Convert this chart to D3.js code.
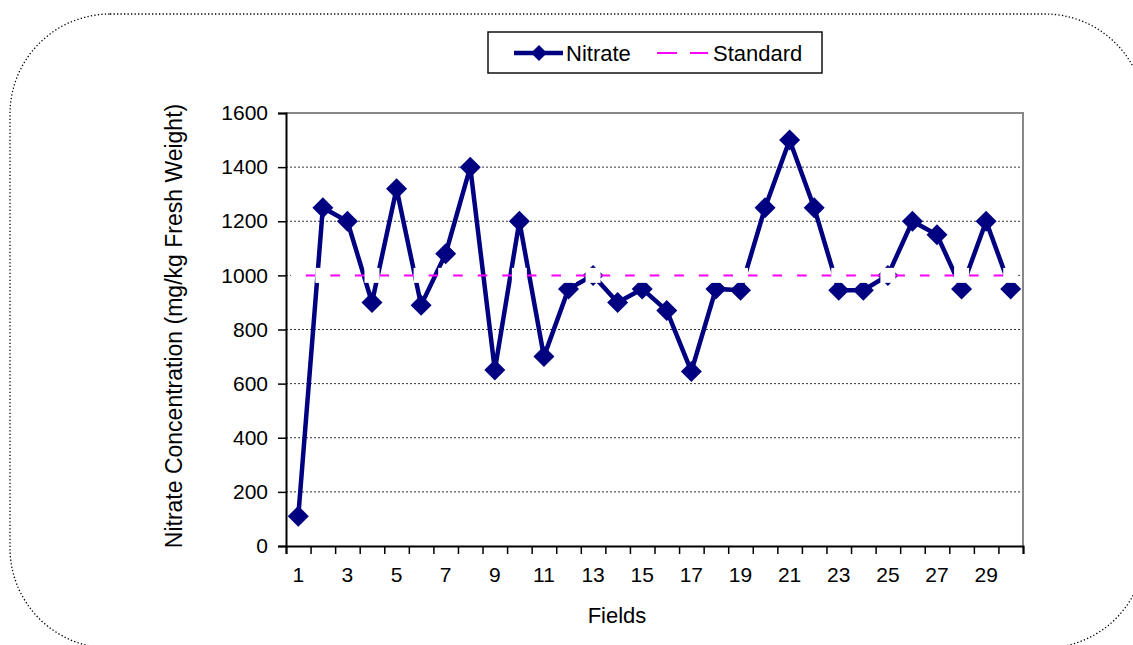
<!DOCTYPE html>
<html><head><meta charset="utf-8">
<script src="https://cdn.jsdelivr.net/npm/d3@7"></script>
<style>
html,body{margin:0;padding:0;background:#fff;}
svg{display:block;font-family:"Liberation Sans",Arial,sans-serif;}
</style></head>
<body><svg id="c" width="1133" height="645"></svg>
<script>
const fields = d3.range(1, 31);
const nitrate = [110,1250,1200,900,1320,890,1080,1400,650,1200,700,950,1000,900,950,870,645,950,945,1250,1500,1250,945,945,1000,1200,1150,950,1200,950];
const standard = fields.map(() => 1000);
const yTicks = [0,200,400,600,800,1000,1200,1400,1600];
const xLabels = fields.filter(d => d % 2 === 1);

const svg = d3.select("#c");
const L = 286, R = 1023, T = 113, B = 546;

// outer dotted rounded frame
svg.append("rect").attr("x",10).attr("y",14).attr("width",1135).attr("height",634)
  .attr("rx",100).attr("ry",100).attr("fill","none")
  .attr("stroke","#000").attr("stroke-width",1.3).attr("stroke-dasharray","1.3,2.2");

const x = d3.scaleBand().domain(fields).range([L,R]).paddingInner(0).paddingOuter(0);
const xb = d3.scaleLinear().domain([0,30]).range([L,R]);
const y = d3.scaleLinear().domain([0,1600]).range([B,T]);
const cx = d => x(d) + x.bandwidth()/2;

// gridlines
svg.append("g").selectAll("line").data(yTicks.filter(d => d>0 && d<1600)).join("line")
  .attr("x1",L).attr("x2",R).attr("y1",d=>y(d)).attr("y2",d=>y(d))
  .attr("stroke","#333").attr("stroke-width",1).attr("stroke-dasharray","2,2");

// plot border top/right
svg.append("path").attr("d",`M${L},${T}H${R}V${B}`).attr("fill","none")
  .attr("stroke","#888").attr("stroke-width",2);

// y axis
const ya = svg.append("g").attr("transform",`translate(${L},0)`)
  .call(d3.axisLeft(y).tickValues(yTicks).tickSize(8).tickPadding(10).tickFormat(d3.format("d")));
ya.select(".domain").attr("stroke","#000").attr("stroke-width",2);
ya.selectAll(".tick line").attr("stroke","#000").attr("stroke-width",1.5);
ya.selectAll("text").attr("font-size",21).attr("fill","#000").attr("font-family","Liberation Sans, Arial, sans-serif");

// x axis tick marks at category boundaries
const xa = svg.append("g").attr("transform",`translate(0,${B})`)
  .call(d3.axisBottom(xb).tickValues(d3.range(0,31)).tickSize(8).tickFormat(""));
xa.select(".domain").attr("stroke","#000").attr("stroke-width",2);
xa.selectAll(".tick line").attr("stroke","#000").attr("stroke-width",1.5);
// x labels
svg.append("g").selectAll("text").data(xLabels).join("text")
  .attr("x",d=>cx(d)).attr("y",582).attr("text-anchor","middle")
  .attr("font-size",21).attr("fill","#000").text(d=>d);

// nitrate line
const line = d3.line().x((d,i)=>cx(fields[i])).y(d=>y(d));
svg.append("path").datum(nitrate).attr("d",line).attr("fill","none")
  .attr("stroke","#000080").attr("stroke-width",4.5).attr("stroke-linejoin","miter");
const diamond = s => `M0,${-s}L${s},0L0,${s}L${-s},0Z`;
svg.append("g").selectAll("path").data(nitrate).join("path")
  .attr("transform",(d,i)=>`translate(${cx(fields[i])},${y(d)})`)
  .attr("d",diamond(10.5)).attr("fill","#000080");

// standard line
svg.append("path").datum(standard).attr("d",line).attr("fill","none")
  .attr("stroke","#ff00ff").attr("stroke-width",2);
svg.append("g").selectAll("rect").data(standard).join("rect")
  .attr("x",(d,i)=>cx(fields[i])-7.5).attr("y",d=>y(d)-7.5)
  .attr("width",15).attr("height",15).attr("fill","#fff");

// axis titles
svg.append("text").attr("x",617).attr("y",623).attr("text-anchor","middle")
  .attr("font-size",22).attr("fill","#000").text("Fields");
svg.append("text").attr("transform","translate(182,326) rotate(-90)").attr("text-anchor","middle")
  .attr("font-size",23).attr("fill","#000").text("Nitrate Concentration (mg/kg Fresh Weight)");

// legend
const lg = svg.append("g");
lg.append("rect").attr("x",488).attr("y",32).attr("width",334).attr("height",41)
  .attr("fill","#fff").attr("stroke","#111").attr("stroke-width",1.5);
lg.append("line").attr("x1",514).attr("x2",563).attr("y1",53).attr("y2",53)
  .attr("stroke","#000080").attr("stroke-width",4.5);
lg.append("path").attr("transform","translate(539,53)").attr("d",diamond(8)).attr("fill","#000080");
lg.append("text").attr("x",566).attr("y",61).attr("font-size",22).attr("fill","#000").text("Nitrate");
lg.append("line").attr("x1",657).attr("x2",708).attr("y1",53).attr("y2",53)
  .attr("stroke","#ff00ff").attr("stroke-width",2);
lg.append("rect").attr("x",677).attr("y",46).attr("width",13).attr("height",14).attr("fill","#fff");
lg.append("text").attr("x",713).attr("y",61).attr("font-size",22).attr("fill","#000").text("Standard");
</script></body></html>
